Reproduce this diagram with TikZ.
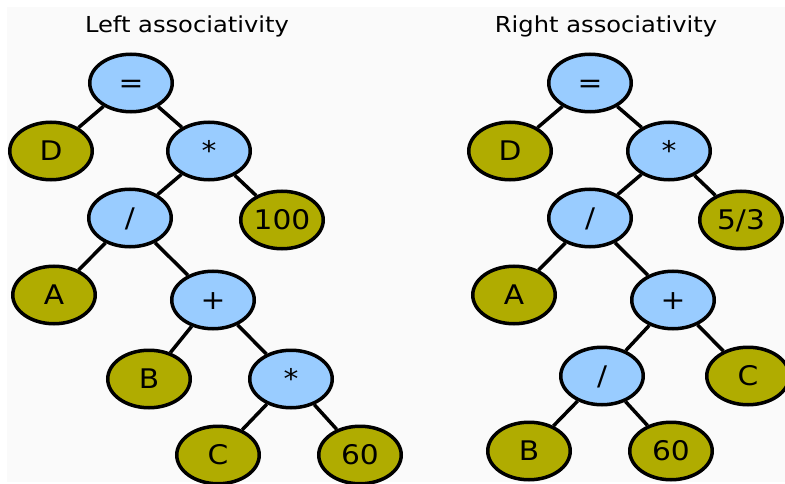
\documentclass[tikz,border=0pt]{standalone}
\usepackage{fontspec}
\setmainfont{DejaVu Sans}[FakeStretch=1.1]
\usetikzlibrary{shapes.geometric}
\definecolor{opblue}{HTML}{99CCFF}
\definecolor{leafolive}{HTML}{B0AC00}
\definecolor{panel}{HTML}{FAFAFA}
\tikzset{
  treenode/.style={ellipse, draw=black, line width=3.5pt, inner sep=0pt,
    minimum width=82.5pt, minimum height=57.5pt,
    font=\fontsize{27}{32}\selectfont, text height=19.7pt, text depth=0pt},
  opnode/.style={treenode, fill=opblue},
  leafnode/.style={treenode, fill=leafolive},
  edge/.style={line width=3.5pt, black},
  heading/.style={anchor=base, inner sep=0pt, font=\fontsize{22}{26}\selectfont}
}
\begin{document}
\begin{tikzpicture}[x=1pt,y=-1pt]
  \useasboundingbox (0,0) rectangle (785,484);
  \clip (0,0) rectangle (785,484);
  \fill[white] (0,0) rectangle (785,484);
  \fill[panel] (7,7) rectangle (785,482);

  % headings
  \node[heading] (tl) at (187,33) {Left associativity};
  \node[heading] (tr) at (606,33) {Right associativity};

  % left tree: D = ((A / (B + C*60)) * 100)
  \node[opnode]   (eqL)   at (131,83)  {=};
  \node[leafnode] (DL)    at (51,151)  {D};
  \node[opnode]   (m1L)   at (209,151) {*};
  \node[opnode]   (divL)  at (130,218) {/};
  \node[leafnode] (hunL)  at (282,220) {100};
  \node[leafnode] (AL)    at (54,295)  {A};
  \node[opnode]   (plusL) at (213,300) {+};
  \node[leafnode] (BL)    at (149,379) {B};
  \node[opnode]   (m2L)   at (291,379) {*};
  \node[leafnode] (CL)    at (218,455) {C};
  \node[leafnode] (sixL)  at (360,455) {60};

  \draw[edge] (eqL) -- (DL);
  \draw[edge] (eqL) -- (m1L);
  \draw[edge] (m1L) -- (divL);
  \draw[edge] (m1L) -- (hunL);
  \draw[edge] (divL) -- (AL);
  \draw[edge] (divL) -- (plusL);
  \draw[edge] (plusL) -- (BL);
  \draw[edge] (plusL) -- (m2L);
  \draw[edge] (m2L) -- (CL);
  \draw[edge] (m2L) -- (sixL);

  % right tree: D = (A / ((B / 60) + C)) * 5/3
  \node[opnode]   (eqR)   at (590,83)  {=};
  \node[leafnode] (DR)    at (510,151) {D};
  \node[opnode]   (m1R)   at (669,151) {*};
  \node[opnode]   (divR)  at (590,218) {/};
  \node[leafnode] (fthR)  at (741,220) {5/3};
  \node[leafnode] (AR)    at (514,295) {A};
  \node[opnode]   (plusR) at (673,300) {+};
  \node[opnode]   (div2R) at (602,376) {/};
  \node[leafnode] (CR)    at (748,376) {C};
  \node[leafnode] (BR)    at (529,451) {B};
  \node[leafnode] (sixR)  at (671,451) {60};

  \draw[edge] (eqR) -- (DR);
  \draw[edge] (eqR) -- (m1R);
  \draw[edge] (m1R) -- (divR);
  \draw[edge] (m1R) -- (fthR);
  \draw[edge] (divR) -- (AR);
  \draw[edge] (divR) -- (plusR);
  \draw[edge] (plusR) -- (div2R);
  \draw[edge] (plusR) -- (CR);
  \draw[edge] (div2R) -- (BR);
  \draw[edge] (div2R) -- (sixR);
\end{tikzpicture}
\end{document}
